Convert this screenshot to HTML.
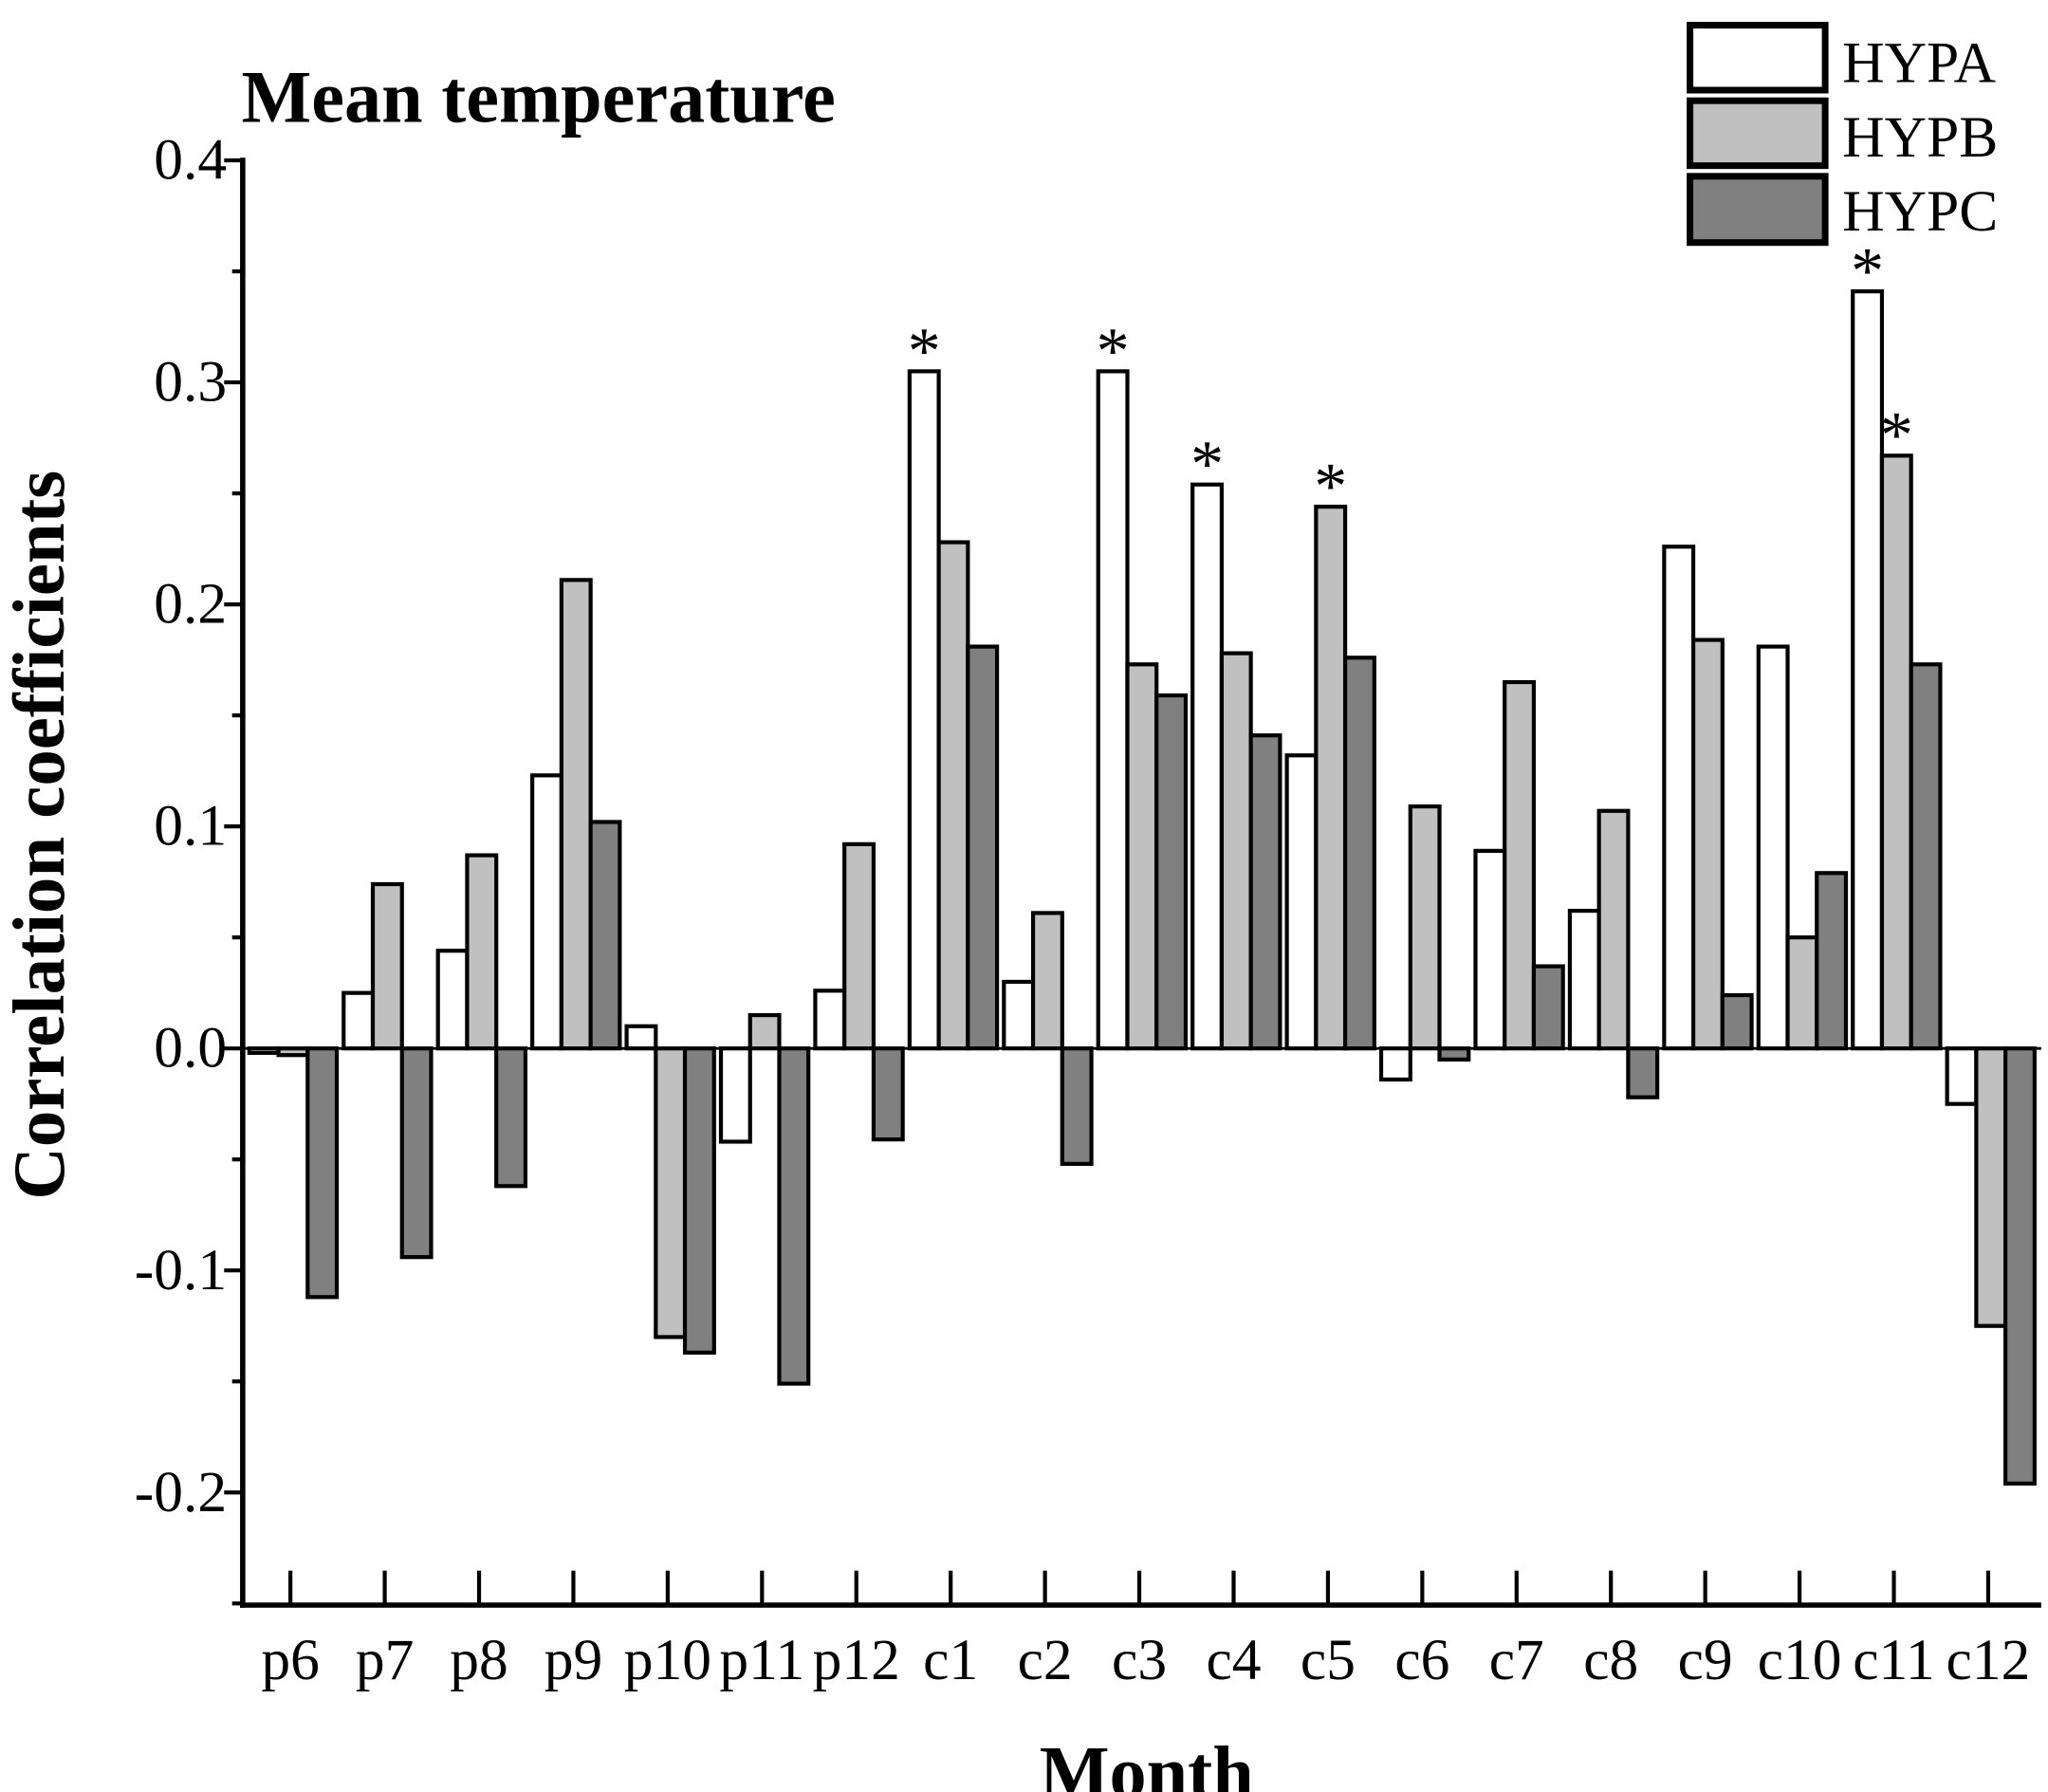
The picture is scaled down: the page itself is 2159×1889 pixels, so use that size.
<!DOCTYPE html>
<html><head><meta charset="utf-8"><style>
html,body{margin:0;padding:0;background:#fff;}
svg{display:block;font-family:"Liberation Serif",serif;}
</style></head><body>
<svg id="chart" width="2159" height="1889" viewBox="0 0 1545 1352" xmlns="http://www.w3.org/2000/svg">
<rect width="1545" height="1352" fill="#fff"/>
<text x="182" y="92" font-size="56" font-weight="bold">Mean temperature</text>
<text transform="translate(48,630) rotate(-90)" text-anchor="middle" font-size="55" font-weight="bold">Correlation coefficients</text>
<text x="865" y="1356" text-anchor="middle" font-size="56" font-weight="bold">Month</text>
<g id="bars"></g>
<g id="axes"></g>
<g>
 <g><rect x="1275" y="19" width="102" height="49" fill="#fff" stroke="#000" stroke-width="5"/><text x="1390" y="62" font-size="44">HYPA</text></g>
 <g><rect x="1275" y="76" width="102" height="49" fill="#c0c0c0" stroke="#000" stroke-width="5"/><text x="1390" y="118" font-size="44">HYPB</text></g>
 <g><rect x="1275" y="133" width="102" height="50" fill="#808080" stroke="#000" stroke-width="5"/><text x="1390" y="174" font-size="44">HYPC</text></g>
</g>
</svg>
<script>
const categories=["p6","p7","p8","p9","p10","p11","p12","c1","c2","c3","c4","c5","c6","c7","c8","c9","c10","c11","c12"];
const hypA=[-0.002,0.025,0.044,0.123,0.010,-0.042,0.026,0.305,0.030,0.305,0.254,0.132,-0.014,0.089,0.062,0.226,0.181,0.341,-0.025];
const hypB=[-0.003,0.074,0.087,0.211,-0.130,0.015,0.092,0.228,0.061,0.173,0.178,0.244,0.109,0.165,0.107,0.184,0.050,0.267,-0.125];
const hypC=[-0.112,-0.094,-0.062,0.102,-0.137,-0.151,-0.041,0.181,-0.052,0.159,0.141,0.176,-0.005,0.037,-0.022,0.024,0.079,0.173,-0.196];
const sigA=[0,0,0,0,0,0,0,1,0,1,1,0,0,0,0,0,0,1,0];
const sigB=[0,0,0,0,0,0,0,0,0,0,0,1,0,0,0,0,0,1,0];
const yTicks=[-0.2,-0.1,0.0,0.1,0.2,0.3,0.4];
const yTickLabels=["-0.2","-0.1","0.0","0.1","0.2","0.3","0.4"];

const NS="http://www.w3.org/2000/svg";
const X0=183,X1=1540,YB=1211;
function y(v){return 791-v*1675;}
function xc(i){return 219+i*(1500-219)/(categories.length-1);}
function mk(tag,attrs,parent){const e=document.createElementNS(NS,tag);for(const k in attrs)e.setAttribute(k,attrs[k]);parent.appendChild(e);return e;}
const bars=document.getElementById('bars'),axes=document.getElementById('axes');
const series=[{d:hypA,f:"#ffffff",n:"hypa",s:sigA},{d:hypB,f:"#c0c0c0",n:"hypb",s:sigB},{d:hypC,f:"#808080",n:"hypc",s:null}];
const BW=22;
categories.forEach((c,i)=>{
  series.forEach((s,j)=>{
    const v=s.d[i];const bx=xc(i)-31+j*BW;
    const top=Math.min(y(v),y(0)),h=Math.abs(y(v)-y(0));
    const r=mk('rect',{x:bx,y:top,width:BW,height:Math.max(h,0.5),fill:s.f,stroke:"#000","stroke-width":3},bars);
    
    
    if(s.s&&s.s[i]){
      const t=mk('text',{x:bx+BW/2,y:y(v)+1,"text-anchor":"middle","font-size":50},bars);
      t.textContent="*";
      
      
    }
  });
});
const zl=mk('line',{x1:X0,x2:X1,y1:y(0),y2:y(0),stroke:"#000","stroke-width":2},axes);


const ya=mk('line',{x1:X0,x2:X0,y1:y(0.4)-2,y2:YB+2,stroke:"#000","stroke-width":4},axes);


const xa=mk('line',{x1:X0-2,x2:X1,y1:YB,y2:YB,stroke:"#000","stroke-width":4},axes);


yTicks.forEach((v,k)=>{
  const tl=mk('line',{x1:X0-14,x2:X0,y1:y(v),y2:y(v),stroke:"#000","stroke-width":3},axes);
  
  
  const tx=mk('text',{x:X0-12,y:y(v)+14,"text-anchor":"end","font-size":44},axes);
  tx.textContent=yTickLabels[k];
  
  
  const mv=v-0.05;
  if(mv>-0.26){
    const ml=mk('line',{x1:X0-8,x2:X0,y1:y(mv),y2:y(mv),stroke:"#000","stroke-width":3},axes);
    
    
  }
});
categories.forEach((c,i)=>{
  const tl=mk('line',{x1:xc(i),x2:xc(i),y1:YB,y2:YB-26,stroke:"#000","stroke-width":3},axes);
  
  
  const tx=mk('text',{x:xc(i),y:YB+56,"text-anchor":"middle","font-size":44},axes);
  tx.textContent=c;
  
  
});
</script>
</body></html>
